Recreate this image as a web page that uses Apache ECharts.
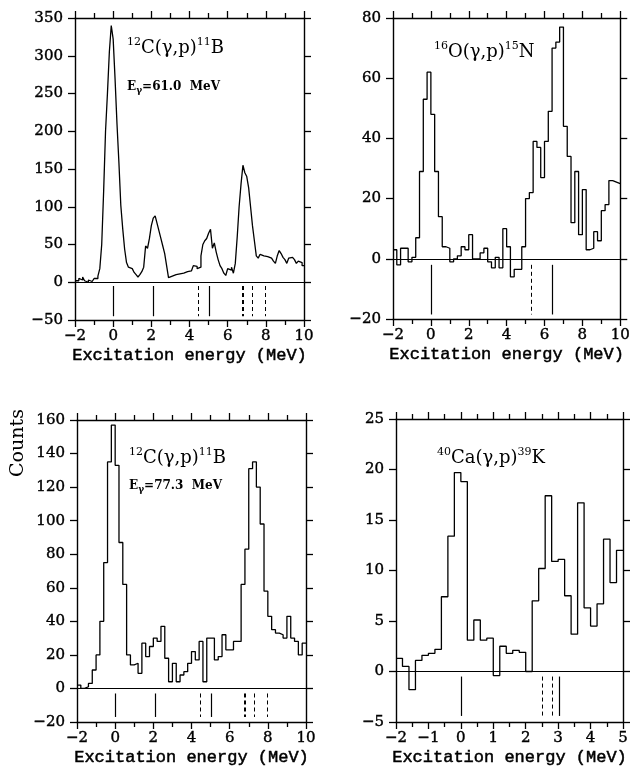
<!DOCTYPE html>
<html>
<head>
<meta charset="utf-8">
<script src="https://cdn.jsdelivr.net/npm/echarts@6/dist/echarts.min.js"></script>
<style>
  html, body { margin: 0; padding: 0; background: #fff; }
  #chart { width: 633px; height: 768px; }
</style>
</head>
<body>
<div id="chart"></div>
<script>
// ---- data (bin start, bin width, counts per bin) ----
const c12a_start = -2, c12a_width = 0.1
const c12a_counts = [
  2, 2, 5, 3, 7, 2, 0, 3, 1, 3,
  5, 5, 8, 18, 50, 120, 200, 250, 305, 340,
  322, 269, 210, 159, 102, 71, 44, 26, 20, 18,
  17, 13, 10, 7, 10, 14, 20, 48, 45, 58,
  75, 85, 88, 78, 68, 58, 48, 38, 22, 6,
  8, 9, 10, 9, 11, 10, 12, 11, 14, 12,
  15, 14, 22, 21, 18, 20, 35, 50, 55, 58,
  65, 70, 45, 52, 40, 30, 22, 18, 12, 9,
  18, 16, 20, 12, 25, 60, 100, 130, 155, 145,
  140, 125, 100, 75, 55, 35, 32, 37, 35, 36,
  34, 35, 32, 30, 28, 25, 35, 42, 38, 33,
  30, 25, 32, 33, 35, 30, 25, 28, 26, 22
]

const o16_start = -2, o16_width = 0.2
const o16_counts = [
  3, -2, 3.5, 3.5, -1, 0.5, 7, 29, 53, 62,
  48, 29, 14, 4, 3.5, -1, 0, 1, 4, 3,
  8, 0, 0, 2, 3.5, -1, -3, 0.5, -3, 10,
  4, -6, -3.5, -3.5, 4, 20, 22, 39, 37, 27,
  39, 49, 70, 72, 77, 44, 34, 12, 29, 8,
  23, 3, 3.5, 9, 6, 16, 18, 26, 25.5, 25
]

const c12b_start = -2, c12b_width = 0.2
const c12b_counts = [
  2, 0, 1, 3, 11, 20, 40, 75, 135, 157,
  133, 87, 62, 20, 14, 15, 9, 27, 19, 25,
  30, 28, 37, 18, 4, 15, 4, 8, 10, 15,
  22, 17, 28, 4, 30, 30, 17, 19, 32, 23,
  23, 28, 28, 62, 83, 131, 135, 120, 98, 58,
  43, 35, 33, 32, 30, 43, 30, 28, 20, 27
]

const ca40_start = -2, ca40_width = 0.2
const ca40_counts = [
  1.3, 0.5, -1.8, 1.1, 1.6, 1.8, 2.2, 7.4, 13.4, 19.7,
  18.8, 3.1, 5.1, 3.1, 3.3, -0.4, 2.5, 1.8, 2.1, 1.9,
  0, 7, 10.2, 17.4, 10.9, 11.1, 7.5, 3.7, 16.7, 6.3,
  4.5, 6.7, 13.1, 8.8, 12
]

// known levels of the residual nucleus (MeV); "tentative" ones are dashed
const levels11B = [0, 2.125, 4.445, 5.02, 6.743, 6.792, 7.286, 7.978]
const tentative11B = [false, false, true, false, true, true, true, true]
const levels15N = [0, 5.3, 6.4]
const tentative15N = [false, true, false]
const levels39K = [0, 2.52, 2.81, 3.02]
const tentative39K = [false, true, true]

// ---- helpers ----
const SERIF = 'DejaVu Serif'
const MONO = 'Liberation Mono'
const INK = '#000'

function histData(start, width, counts, xmax) {
  const d = counts.map((v, i) => [+(start + i * width).toFixed(3), v])
  d.push([xmax, counts[counts.length - 1]])
  return d
}

function levelLines(levels, tentative, y1, y2) {
  return levels.map((e, i) => [
    { coord: [e, y1], lineStyle: { color: INK, width: tentative[i] ? 1 : 1.2, type: tentative[i] ? [4, 3] : 'solid' } },
    { coord: [e, y2] }
  ])
}

// typeset minus sign like the original figure
const minus = v => String(v).replace('-', '\u2212')

const labelFont = {
  fontFamily: SERIF, fontSize: 15, color: INK,
  textBorderColor: INK, textBorderWidth: 0.4, formatter: minus
}

function xPair(grid, min, max, interval) {
  const base = {
    gridIndex: grid, type: 'value', min, max, interval,
    axisLine: { onZero: false, lineStyle: { color: INK, width: 1.4 } },
    axisTick: { show: true, inside: false, length: 7, lineStyle: { color: INK, width: 1.3 } },
    minorTick: { show: true, splitNumber: 2, length: 5, lineStyle: { color: INK, width: 1.3 } },
    splitLine: { show: false }
  }
  return [
    Object.assign({}, base, {
      position: 'bottom',
      name: 'Excitation energy (MeV)', nameLocation: 'middle', nameGap: 27,
      nameTextStyle: { fontFamily: MONO, fontSize: 17, color: INK, textBorderColor: INK, textBorderWidth: 0.5 },
      axisLabel: Object.assign({ margin: 9 }, labelFont)
    }),
    Object.assign({}, base, { position: 'top', axisLabel: { show: false } })
  ]
}

function yPair(grid, min, max, interval) {
  const base = {
    gridIndex: grid, type: 'value', min, max, interval,
    axisLine: { onZero: false, lineStyle: { color: INK, width: 1.4 } },
    axisTick: { show: true, inside: false, length: 7, lineStyle: { color: INK, width: 1.3 } },
    splitLine: { show: false }
  }
  return [
    Object.assign({}, base, {
      position: 'left',
      axisLabel: Object.assign({ margin: 12 }, labelFont)
    }),
    Object.assign({}, base, { position: 'right', axisLabel: { show: false } })
  ]
}

function histSeries(idx, data, levels) {
  return {
    type: 'line', step: 'end', symbol: 'none',
    xAxisIndex: idx * 2, yAxisIndex: idx * 2,
    data,
    lineStyle: { color: INK, width: 1.3 },
    markLine: {
      silent: true, symbol: 'none', animation: false,
      label: { show: false },
      lineStyle: { color: INK, width: 1.2, type: 'solid' },
      data: [{ yAxis: 0 }].concat(levels)
    }
  }
}

function titleText(x, y, pre, mid, post, tail) {
  return {
    type: 'text', left: x, top: y,
    style: {
      text: `{s|${pre}}{m|${mid}}{s|${post}}{m|${tail}}`,
      rich: {
        m: { fontFamily: SERIF, fontSize: 18, fill: INK, lineHeight: 22 },
        s: { fontFamily: SERIF, fontSize: 11, fill: INK, lineHeight: 12, verticalAlign: 'top' }
      }
    }
  }
}

function energyText(x, y, value) {
  return {
    type: 'text', left: x, top: y,
    style: {
      text: `{e|E}{g|γ}{e|=${value}  MeV}`,
      rich: {
        e: { fontFamily: SERIF, fontSize: 12, fontWeight: 'bold', fill: INK, lineHeight: 16 },
        g: { fontFamily: SERIF, fontSize: 9, fontWeight: 'bold', fill: INK, lineHeight: 9, verticalAlign: 'bottom' }
      }
    }
  }
}

// ---- chart ----
const chart = echarts.init(document.getElementById('chart'), null, { renderer: 'canvas' })

const option = {
  animation: false,
  backgroundColor: '#fff',
  grid: [
    { left: 75, top: 18, width: 229, height: 302 },
    { left: 393, top: 18, width: 229, height: 301 },
    { left: 77, top: 420, width: 229, height: 302 },
    { left: 396, top: 419, width: 227, height: 303 }
  ],
  xAxis: [].concat(
    xPair(0, -2, 10, 2), xPair(1, -2, 10, 2),
    xPair(2, -2, 10, 2), xPair(3, -2, 5, 1)
  ),
  yAxis: [].concat(
    yPair(0, -50, 350, 50), yPair(1, -20, 80, 20),
    yPair(2, -20, 160, 20), yPair(3, -5, 25, 5)
  ),
  series: [
    histSeries(0, histData(c12a_start, c12a_width, c12a_counts, 10), levelLines(levels11B, tentative11B, -5, -45)),
    histSeries(1, histData(o16_start, o16_width, o16_counts, 10), levelLines(levels15N, tentative15N, -2, -18.5)),
    histSeries(2, histData(c12b_start, c12b_width, c12b_counts, 10), levelLines(levels11B, tentative11B, -3, -17)),
    histSeries(3, histData(ca40_start, ca40_width, ca40_counts, 5), levelLines(levels39K, tentative39K, -0.5, -4.4))
  ],
  graphic: [
    titleText(127, 37, '12', 'C(γ,p)', '11', 'B'),
    energyText(127, 81, '61.0'),
    titleText(434, 41, '16', 'O(γ,p)', '15', 'N'),
    titleText(129, 447, '12', 'C(γ,p)', '11', 'B'),
    energyText(129, 480, '77.3'),
    titleText(437, 447, '40', 'Ca(γ,p)', '39', 'K'),
    {
      type: 'text', x: 18, y: 443, rotation: Math.PI / 2,
      style: { text: 'Counts', fontFamily: SERIF, fontSize: 19, fill: INK, align: 'center', verticalAlign: 'middle' }
    }
  ]
}

chart.setOption(option)
</script>
</body>
</html>
